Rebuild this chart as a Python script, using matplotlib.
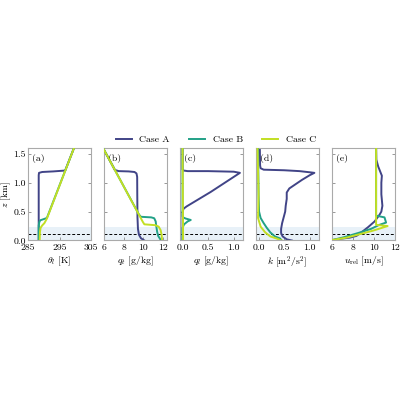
import numpy as np
import matplotlib
matplotlib.use("Agg")
import matplotlib.pyplot as plt

plt.rcParams['font.family'] = 'serif'
plt.rcParams['font.serif'] = ['cmr10']
plt.rcParams['mathtext.fontset'] = 'cm'
plt.rcParams['axes.formatter.use_mathtext'] = True
plt.rcParams['font.size'] = 7

cases = ['Case A', 'Case B', 'Case C']
colors = ['#414487', '#22a187', '#c2df23']

# theta_l [K] profiles, (value, z km)
thl_a = [(288.4, 0.0), (288.4, 0.6), (288.4, 1.13), (288.5, 1.17), (289.5, 1.185),
         (293.0, 1.195), (296.8, 1.21), (299.6, 1.6)]
thl_b = [(288.4, 0.0), (288.4, 0.26), (288.6, 0.32), (288.9, 0.35), (290.0, 0.37),
         (291.0, 0.39), (299.6, 1.6)]
thl_c = [(288.7, 0.0), (288.8, 0.15), (289.0, 0.22), (289.5, 0.26), (290.2, 0.30),
         (291.0, 0.38), (299.6, 1.6)]

# q_t [g/kg]
qt_a = [(5.9, 1.6), (6.95, 1.27), (7.1, 1.22), (7.5, 1.2), (8.5, 1.195), (9.1, 1.185),
        (9.3, 1.16), (9.37, 1.1), (9.38, 0.8), (9.4, 0.4), (9.45, 0.2), (9.55, 0.1),
        (9.75, 0.04), (10.1, 0.0)]
qt_b = [(5.9, 1.6), (9.55, 0.45), (9.75, 0.41), (10.8, 0.40), (11.1, 0.385),
        (11.25, 0.33), (11.3, 0.26), (11.4, 0.15), (11.5, 0.08), (11.8, 0.0)]
qt_c = [(5.9, 1.6), (9.95, 0.32), (10.1, 0.28), (11.2, 0.265), (11.55, 0.24),
        (11.75, 0.18), (11.85, 0.1), (11.9, 0.0)]

# q_l [g/kg]
ql_a = [(0.0, 0.0), (0.0, 0.5), (0.02, 0.55), (0.08, 0.59), (0.55, 0.84), (1.12, 1.17),
        (1.0, 1.19), (0.5, 1.2), (0.1, 1.2), (0.02, 1.21), (0.0, 1.23), (0.0, 1.6)]
ql_b = [(0.0, 0.0), (0.0, 0.22), (0.03, 0.28), (0.1, 0.33), (0.16, 0.355), (0.06, 0.38),
        (0.01, 0.40), (0.0, 0.42), (0.0, 1.6)]
ql_c = [(0.01, 0.0), (0.0, 1.6)]

# k [m2/s2]
k_a = [(0.025, 1.6), (0.03, 1.3), (0.04, 1.25), (0.1, 1.225), (0.5, 1.215), (0.8, 1.2),
       (1.0, 1.18), (1.09, 1.17), (1.0, 1.13), (0.85, 1.05), (0.7, 0.96), (0.6, 0.9),
       (0.55, 0.83), (0.55, 0.72), (0.53, 0.6), (0.52, 0.5), (0.49, 0.4), (0.46, 0.3),
       (0.44, 0.2), (0.44, 0.13), (0.47, 0.07), (0.55, 0.02), (0.65, 0.0)]
k_b = [(-0.01, 1.6), (0.0, 0.8), (0.01, 0.5), (0.04, 0.39), (0.1, 0.3), (0.16, 0.22),
       (0.23, 0.14), (0.32, 0.07), (0.42, 0.035), (0.45, 0.0)]
k_c = [(-0.02, 1.6), (0.0, 0.8), (-0.01, 0.39), (0.04, 0.24), (0.13, 0.14), (0.23, 0.07),
       (0.35, 0.035), (0.45, 0.0)]

# u_rel [m/s]
u_a = [(10.2, 1.6), (10.22, 1.4), (10.4, 1.28), (10.75, 1.12), (10.7, 1.0), (10.7, 0.8),
       (10.8, 0.6), (10.7, 0.5), (10.54, 0.45), (10.06, 0.33), (9.43, 0.23), (8.8, 0.14),
       (8.33, 0.08), (7.7, 0.05), (6.6, 0.025), (6.1, 0.01), (6.0, 0.0)]
u_b = [(10.2, 1.6), (10.2, 0.43), (11.0, 0.40), (11.15, 0.31), (10.5, 0.27), (9.7, 0.2),
       (8.5, 0.13), (7.2, 0.06), (6.1, 0.01)]
u_c = [(10.2, 1.6), (10.2, 0.27), (11.3, 0.25), (9.9, 0.17), (8.65, 0.11), (7.4, 0.05),
       (6.1, 0.01)]

profiles = [
    (thl_a, thl_b, thl_c),
    (qt_a, qt_b, qt_c),
    (ql_a, ql_b, ql_c),
    (k_a, k_b, k_c),
    (u_a, u_b, u_c),
]
xlabels = [r'$\theta_l$ [K]', r'$q_t$ [g/kg]', r'$q_l$ [g/kg]',
           r'$k$ [m$^2$/s$^2$]', r'$u_{\rm rel}$ [m/s]']
xlims = [(285, 305), (6, 12.4), (-0.05, 1.18), (-0.05, 1.18), (6, 12)]
xticks = [[285, 295, 305], [6, 8, 10, 12], [0.0, 0.5, 1.0], [0.0, 0.5, 1.0], [6, 8, 10, 12]]
xticklabels = [['285', '295', '305'], ['6', '8', '10', '12'], ['0.0', '0.5', '1.0'],
               ['0.0', '0.5', '1.0'], ['6', '8', '10', '12']]
panel_tags = ['(a)', '(b)', '(c)', '(d)', '(e)']
z_ticks = [0.0, 0.5, 1.0, 1.5]
z_shade = 0.23
z_dash = 0.11

fig = plt.figure(figsize=(4, 4), dpi=100)
lefts = [28, 104, 180, 256, 332]
handles = []
for i in range(5):
    ax = fig.add_axes([lefts[i] / 400, 1 - 240.5 / 400, 63 / 400, 92.5 / 400])
    ax.axhspan(0, z_shade, color='#e8f1f8', zorder=0, lw=0)
    ax.axhline(z_dash, color='k', lw=0.7, ls=(0, (3, 2)), zorder=1)
    for j, prof in enumerate(profiles[i]):
        x, z = zip(*prof)
        ln, = ax.plot(x, z, color=colors[j], lw=1.4, label=cases[j], zorder=2 + j)
        if i == 0:
            handles.append(ln)
    ax.set_xlim(xlims[i])
    ax.set_ylim(0, 1.6)
    ax.set_xticks(xticks[i])
    ax.set_xticklabels(xticklabels[i])
    ax.set_yticks(z_ticks)
    if i == 0:
        ax.set_yticklabels(['0.0', '0.5', '1.0', '1.5'])
        ax.set_ylabel(r'$z$ [km]')
        ax.yaxis.set_label_coords(-0.235, 0.5)
    else:
        ax.set_yticklabels([])
    ax.set_xlabel(xlabels[i], labelpad=1.5)
    ax.tick_params(direction='in', length=2.5, width=0.6, right=True, color='#888888')
    ax.tick_params(axis='x', pad=2.5)
    ax.tick_params(axis='y', pad=1.5)
    for s in ax.spines.values():
        s.set_color('#aaaaaa')
        s.set_linewidth(0.8)
    ax.text(0.07, 0.93, panel_tags[i], transform=ax.transAxes, ha='left', va='top')

fig.legend(handles=handles, loc='center', bbox_to_anchor=(0.54, 0.65), ncol=3,
           frameon=False, handlelength=1.6, columnspacing=2.0, fontsize=7)

fig.savefig('out.png', dpi=100)
